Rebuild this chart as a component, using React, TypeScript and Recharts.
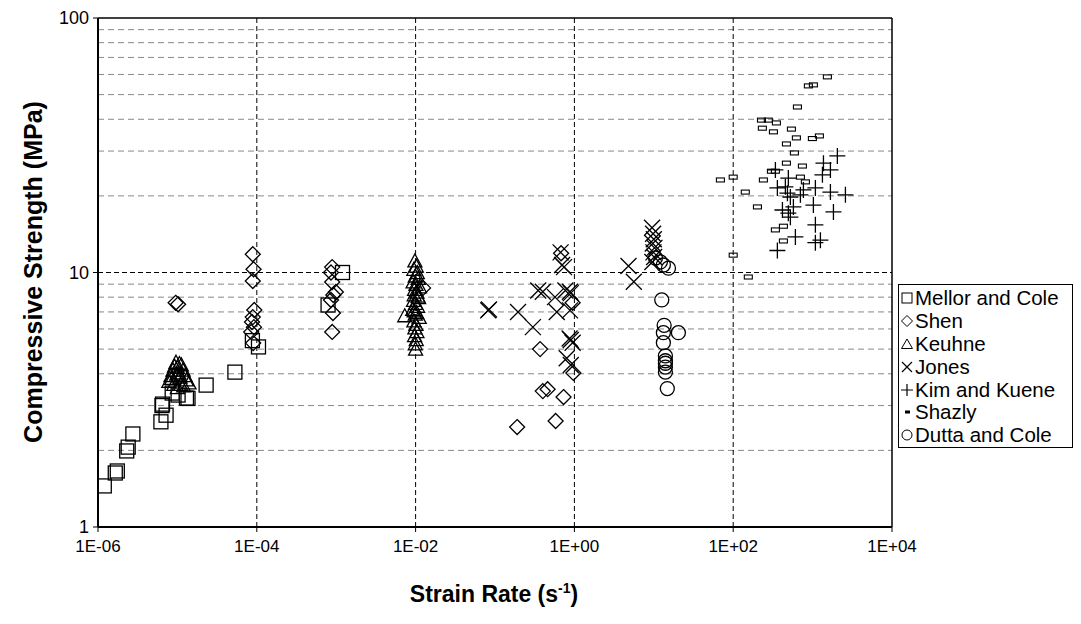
import { ScatterChart, Scatter, XAxis, YAxis, ReferenceLine } from "recharts";

// strain rate (1/s) and compressive strength (MPa)
const mellorRate = [1.2e-6, 1.65e-6, 1.75e-6, 2.3e-6, 2.4e-6, 2.75e-6, 6.2e-6, 6.4e-6, 7.2e-6, 6.5e-6, 8.6e-6, 1.02e-5, 1.3e-5, 1.36e-5, 2.3e-5, 5.3e-5, 8.8e-5, 1.05e-4, 7.9e-4, 1.2e-3];
const mellorStrength = [1.45, 1.63, 1.66, 1.99, 2.06, 2.32, 2.59, 3.0, 2.75, 3.04, 3.36, 3.3, 3.21, 3.2, 3.61, 4.06, 5.4, 5.1, 7.45, 10.0];

const shenRate = [9.5e-6, 1.02e-5, 8.9e-5, 9.1e-5, 8.9e-5, 9.3e-5, 8.9e-5, 8.7e-5, 9.2e-5, 8.5e-5, 9.0e-5, 8.9e-4, 8.6e-4, 8.9e-4, 9.9e-4, 9.2e-4, 8.6e-4, 9.1e-4, 8.9e-4, 0.0124, 0.19, 0.37, 0.4, 0.46, 0.58, 0.73, 0.97, 0.95, 0.68];
const shenStrength = [7.6, 7.5, 11.8, 10.3, 9.26, 7.12, 6.68, 6.39, 6.1, 5.84, 5.28, 10.5, 10.0, 9.18, 8.38, 8.16, 7.8, 6.93, 5.84, 8.7, 2.47, 5.0, 3.42, 3.48, 2.61, 3.24, 4.03, 7.6, 11.9];

const keuhneRate = [7.8e-6, 8.3e-6, 8.8e-6, 9.2e-6, 9.6e-6, 1.0e-5, 1.04e-5, 1.08e-5, 1.12e-5, 1.18e-5, 1.25e-5, 1.3e-5, 9.0e-6, 1.0e-5, 1.1e-5, 8.5e-6, 1.2e-5, 9.8e-6, 1.06e-5, 1.4e-5,
  0.0098, 0.0102, 0.0095, 0.0105, 0.0099, 0.0108, 0.0093, 0.0101, 0.0112, 0.0097, 0.0104, 0.0096, 0.0109, 0.0094, 0.01, 0.0106, 0.0092, 0.0103, 0.0099, 0.0111, 0.0095, 0.0101, 0.0098, 0.0104, 0.0097, 0.0102, 0.0099, 0.01, 0.0073, 0.0107, 0.0096];
const keuhneStrength = [3.7, 3.9, 4.1, 4.25, 4.4, 4.2, 4.0, 3.85, 4.3, 4.1, 3.9, 3.75, 3.6, 3.5, 3.6, 3.8, 3.55, 3.95, 4.35, 3.65,
  11.0, 10.5, 10.2, 9.9, 9.6, 9.4, 9.1, 8.9, 8.7, 8.5, 8.3, 8.1, 7.9, 7.7, 7.5, 7.3, 7.1, 6.9, 6.8, 6.6, 6.4, 6.2, 6.0, 5.8, 5.6, 5.4, 5.2, 4.95, 6.7, 8.0, 7.0];

const jonesRate = [0.082, 0.084, 0.195, 0.3, 0.35, 0.4, 0.57, 0.6, 0.67, 0.7, 0.74, 0.77, 0.88, 0.9, 0.88, 0.9, 0.87, 0.95, 0.8, 0.9, 4.8, 5.6, 9.5, 9.8, 10.0, 9.7, 10.2, 9.9, 10.1, 9.6];
const jonesStrength = [7.1, 7.15, 7.0, 6.1, 8.5, 8.4, 8.0, 7.0, 12.0, 10.7, 10.5, 8.5, 8.4, 8.3, 7.1, 5.43, 5.5, 5.3, 4.6, 4.33, 10.6, 9.2, 15.0, 14.2, 13.5, 13.0, 12.5, 12.0, 11.5, 11.0];

const kimRate = [2050, 1370, 1676, 1330, 340, 495, 360, 454, 482, 525, 1084, 1676, 2590, 1023, 573, 495, 417, 1830, 1084, 607, 1254, 1084, 360, 525, 766, 702];
const kimStrength = [28.7, 26.9, 25.3, 24.2, 25.3, 23.5, 21.5, 21.7, 20.5, 19.8, 21.5, 20.7, 20.2, 18.4, 18.1, 17.1, 17.6, 17.3, 15.4, 13.8, 13.4, 13.1, 12.2, 16.5, 21.1, 20.2];

const shazlyRate = [1535, 1023, 885, 644, 227, 277, 350, 233, 321, 541, 625, 994, 1218, 468, 590, 468, 744, 303, 340, 69, 100, 240, 702, 811, 142, 202, 429, 340, 429, 100, 155];
const shazlyStrength = [58.7, 54.6, 54.1, 44.7, 39.7, 39.7, 38.7, 36.9, 35.7, 36.6, 33.8, 33.6, 34.4, 32.0, 29.5, 26.9, 26.2, 25.0, 25.0, 23.1, 23.7, 23.1, 23.7, 22.7, 20.7, 18.1, 15.2, 14.7, 13.3, 11.7, 9.6];

const duttaRate = [10.5, 12.1, 13.2, 15.3, 12.6, 13.5, 13.2, 20.4, 13.2, 14.0, 14.0, 14.0, 14.0, 14.0, 14.8];
const duttaStrength = [11.4, 11.0, 10.7, 10.4, 7.8, 6.2, 5.8, 5.8, 5.3, 4.7, 4.5, 4.4, 4.25, 4.06, 3.5];

const rateTicks = [1e-6, 1e-4, 1e-2, 1, 1e2, 1e4];
const strengthTicks = [1, 10, 100];
const minorStrength = [2, 3, 4, 5, 6, 7, 8, 9, 20, 30, 40, 50, 60, 70, 80, 90];
const majorRateLines = [1e-4, 1e-2, 1, 1e2];

const legendNames = ["Mellor and Cole", "Shen", "Keuhne", "Jones", "Kim and Kuene", "Shazly", "Dutta and Cole"];

const zip = (xs: number[], ys: number[]) => xs.map((x, i) => ({ x, y: ys[i] }));

const FONT = "Arial, 'Liberation Sans', sans-serif";
const S = "#000";

const Square = (p: any) => <rect x={p.cx - 7} y={p.cy - 7} width={14} height={14} fill="none" stroke={S} strokeWidth={1.3} />;
const Diamond = (p: any) => (
  <path d={`M${p.cx},${p.cy - 7.5}L${p.cx + 7.5},${p.cy}L${p.cx},${p.cy + 7.5}L${p.cx - 7.5},${p.cy}Z`} fill="none" stroke={S} strokeWidth={1.3} />
);
const Triangle = (p: any) => (
  <path d={`M${p.cx},${p.cy - 8}L${p.cx + 7},${p.cy + 5}L${p.cx - 7},${p.cy + 5}Z`} fill="none" stroke={S} strokeWidth={1.3} />
);
const Cross = (p: any) => (
  <path d={`M${p.cx - 8},${p.cy - 8}L${p.cx + 8},${p.cy + 8}M${p.cx + 8},${p.cy - 8}L${p.cx - 8},${p.cy + 8}`} fill="none" stroke={S} strokeWidth={1.3} />
);
const Plus = (p: any) => (
  <path d={`M${p.cx - 8},${p.cy}L${p.cx + 8},${p.cy}M${p.cx},${p.cy - 8}L${p.cx},${p.cy + 8}`} fill="none" stroke={S} strokeWidth={1.3} />
);
const Dash = (p: any) => <rect x={p.cx - 4} y={p.cy - 2} width={8} height={4} fill="none" stroke={S} strokeWidth={1.1} />;
const Ring = (p: any) => <circle cx={p.cx} cy={p.cy} r={7} fill="none" stroke={S} strokeWidth={1.3} />;

const legendIcons = [
  <rect x={1} y={1} width={10} height={10} fill="none" stroke={S} />,
  <path d="M6,0.5L11.5,6L6,11.5L0.5,6Z" fill="none" stroke={S} />,
  <path d="M6,1L11.5,10.5L0.5,10.5Z" fill="none" stroke={S} />,
  <path d="M1,1L11,11M11,1L1,11" stroke={S} strokeWidth={1.2} />,
  <path d="M0,6L12,6M6,0L6,12" stroke={S} strokeWidth={1.2} />,
  <rect x={4} y={4.5} width={5} height={3} fill={S} />,
  <circle cx={6} cy={6} r={5} fill="none" stroke={S} />,
];

const fmtRate = (v: number) => {
  const e = Math.round(Math.log10(v));
  return "1E" + (e < 0 ? "-" : "+") + String(Math.abs(e)).padStart(2, "0");
};

export default function App() {
  return (
    <div style={{ position: "absolute", left: 0, top: 0, width: 1081, height: 624, background: "#fff", fontFamily: FONT }}>
      <ScatterChart width={1081} height={624} margin={{ top: 18, right: 189, bottom: 57, left: 38 }}>
        {minorStrength.map((v) => (
          <ReferenceLine key={"h" + v} y={v} stroke="#888" strokeDasharray="6 4" strokeWidth={1} />
        ))}
        <ReferenceLine y={10} stroke={S} strokeDasharray="5 3" strokeWidth={1} />
        {majorRateLines.map((v) => (
          <ReferenceLine key={"v" + v} x={v} stroke={S} strokeDasharray="5 3" strokeWidth={1} />
        ))}
        <ReferenceLine y={100} stroke={S} strokeWidth={1.5} />
        <ReferenceLine x={1e4} stroke={S} strokeWidth={1.5} />
        <XAxis
          dataKey="x"
          type="number"
          scale="log"
          domain={[1e-6, 1e4]}
          allowDataOverflow
          ticks={rateTicks}
          interval={0}
          tickFormatter={fmtRate}
          tick={{ fill: S, fontSize: 17, fontFamily: FONT }}
          tickLine={{ stroke: S }}
          axisLine={{ stroke: S, strokeWidth: 2 }}
          tickSize={5}
          tickMargin={8}
          height={40}
        />
        <YAxis
          dataKey="y"
          type="number"
          scale="log"
          domain={[1, 100]}
          allowDataOverflow
          ticks={strengthTicks}
          interval={0}
          tick={{ fill: S, fontSize: 18, fontFamily: FONT }}
          tickLine={{ stroke: S }}
          axisLine={{ stroke: S, strokeWidth: 2 }}
          tickSize={5}
          tickMargin={4}
          width={60}
        />
        <Scatter name="Mellor and Cole" data={zip(mellorRate, mellorStrength)} shape={Square} isAnimationActive={false} />
        <Scatter name="Shen" data={zip(shenRate, shenStrength)} shape={Diamond} isAnimationActive={false} />
        <Scatter name="Keuhne" data={zip(keuhneRate, keuhneStrength)} shape={Triangle} isAnimationActive={false} />
        <Scatter name="Jones" data={zip(jonesRate, jonesStrength)} shape={Cross} isAnimationActive={false} />
        <Scatter name="Kim and Kuene" data={zip(kimRate, kimStrength)} shape={Plus} isAnimationActive={false} />
        <Scatter name="Shazly" data={zip(shazlyRate, shazlyStrength)} shape={Dash} isAnimationActive={false} />
        <Scatter name="Dutta and Cole" data={zip(duttaRate, duttaStrength)} shape={Ring} isAnimationActive={false} />
      </ScatterChart>

      <div
        style={{
          position: "absolute",
          left: 33,
          top: 272,
          transform: "translate(-50%, -50%) rotate(-90deg)",
          whiteSpace: "nowrap",
          fontSize: 25,
          fontWeight: "bold",
        }}
      >
        Compressive Strength (MPa)
      </div>
      <div
        style={{
          position: "absolute",
          left: 494,
          top: 594,
          transform: "translate(-50%, -50%)",
          whiteSpace: "nowrap",
          fontSize: 23,
          fontWeight: "bold",
        }}
      >
        Strain Rate (s<sup style={{ fontSize: 14 }}>-1</sup>)
      </div>

      <div
        style={{
          position: "absolute",
          left: 898,
          top: 284,
          width: 175,
          height: 164,
          border: "1.5px solid #000",
          boxSizing: "border-box",
          padding: "2px 0 0 2px",
        }}
      >
        {legendNames.map((name, i) => (
          <div key={name} style={{ display: "flex", alignItems: "center", height: 22.8, fontSize: 20.5, whiteSpace: "nowrap" }}>
            <svg width={12} height={12} style={{ marginRight: 2, flexShrink: 0 }}>
              {legendIcons[i]}
            </svg>
            {name}
          </div>
        ))}
      </div>
    </div>
  );
}
